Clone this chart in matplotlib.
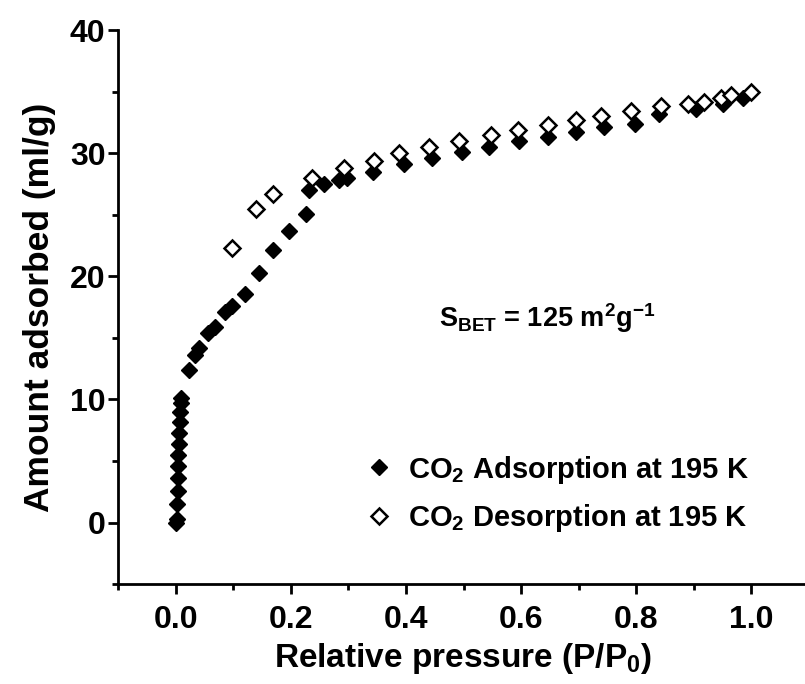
import numpy as np
import matplotlib
matplotlib.use("Agg")
import matplotlib.pyplot as plt
from matplotlib.ticker import MultipleLocator

# ── Data ──────────────────────────────────────────────────────────────────────
ADS_P = [0.001, 0.002, 0.003, 0.004, 0.004, 0.005, 0.005, 0.006, 0.006, 0.007,
         0.008, 0.009, 0.010,
         0.023, 0.034, 0.041, 0.057, 0.068, 0.086, 0.098, 0.120, 0.144, 0.170,
         0.197, 0.226, 0.231, 0.257, 0.283, 0.298, 0.342, 0.397, 0.446, 0.498,
         0.544, 0.597, 0.646, 0.695, 0.744, 0.797, 0.840, 0.904, 0.950, 0.985]
ADS_V = [0.0, 0.3, 1.5, 2.6, 3.6, 4.6, 5.5, 6.4, 7.3, 8.2,
         9.0, 9.7, 10.1,
         12.4, 13.6, 14.2, 15.4, 15.9, 17.1, 17.6, 18.6, 20.3, 22.1,
         23.7, 25.1, 27.0, 27.5, 27.8, 28.0, 28.5, 29.1, 29.6, 30.1,
         30.5, 31.0, 31.3, 31.7, 32.1, 32.4, 33.2, 33.6, 34.0, 34.5]

DES_P = [0.098, 0.139, 0.170, 0.237, 0.292, 0.344, 0.388, 0.440, 0.492, 0.547,
         0.594, 0.646, 0.695, 0.739, 0.791, 0.843, 0.889, 0.918, 0.947, 0.965,
         0.999]
DES_V = [22.3, 25.5, 26.7, 28.0, 28.8, 29.4, 30.0, 30.5, 31.0, 31.5,
         31.9, 32.3, 32.7, 33.0, 33.4, 33.8, 34.0, 34.2, 34.5, 34.7,
         35.0]

X_LIMITS = (-0.1, 1.1)
Y_LIMITS = (-5, 40)

plt.rcParams["font.family"] = ["Liberation Sans", "DejaVu Sans"]
plt.rcParams["font.weight"] = "bold"
plt.rcParams["mathtext.fontset"] = "custom"
plt.rcParams["mathtext.rm"] = "Liberation Sans:bold"
plt.rcParams["mathtext.it"] = "Liberation Sans:bold"
plt.rcParams["mathtext.bf"] = "Liberation Sans:bold"
plt.rcParams["mathtext.default"] = "rm"

fig = plt.figure(figsize=(8.05, 6.84), dpi=100)
ax = fig.add_axes([0.1466, 0.146, 0.8534 + 0.005, 0.81])

ax.plot(ADS_P, ADS_V, linestyle="none", marker="D", markersize=8.4,
        color="black", label=r"CO$_2$ Adsorption at 195 K")
ax.plot(DES_P, DES_V, linestyle="none", marker="D", markersize=8.4,
        markerfacecolor="white", markeredgecolor="black", markeredgewidth=1.8,
        label=r"CO$_2$ Desorption at 195 K")

ax.set_xlim(*X_LIMITS)
ax.set_ylim(*Y_LIMITS)
ax.xaxis.set_minor_locator(MultipleLocator(0.1))
ax.yaxis.set_minor_locator(MultipleLocator(5))
ax.set_xticks([0.0, 0.2, 0.4, 0.6, 0.8, 1.0])
ax.set_yticks([0, 10, 20, 30, 40])
ax.xaxis.set_major_formatter(plt.FuncFormatter(lambda v, p: f"{v:.1f}"))

for side in ("top", "right"):
    ax.spines[side].set_visible(False)
for side in ("left", "bottom"):
    ax.spines[side].set_linewidth(2.0)

ax.tick_params(which="major", direction="out", length=7, width=2.0,
               labelsize=23)
ax.tick_params(axis="x", which="major", pad=8)
ax.tick_params(axis="y", which="major", pad=2)
ax.tick_params(which="minor", direction="out", length=4, width=2.0)

ax.set_xlabel(r"Relative pressure (P/P$_0$)", fontsize=24, fontweight="bold",
              labelpad=4)
ax.set_ylabel("Amount adsorbed (ml/g)", fontsize=25.5, fontweight="bold",
              labelpad=10)

ax.text(0.645, 16.6, r"S$_{BET}$ = 125 m$^2$g$^{-1}$", fontsize=19.5,
        fontweight="bold", ha="center", va="center")

ax.legend(loc="upper left", bbox_to_anchor=(0.335, 0.262), frameon=False,
          fontsize=21, handletextpad=0.5, labelspacing=0.58,
          handlelength=1.0, borderpad=0.0)

fig.savefig("out.png", dpi=100)
